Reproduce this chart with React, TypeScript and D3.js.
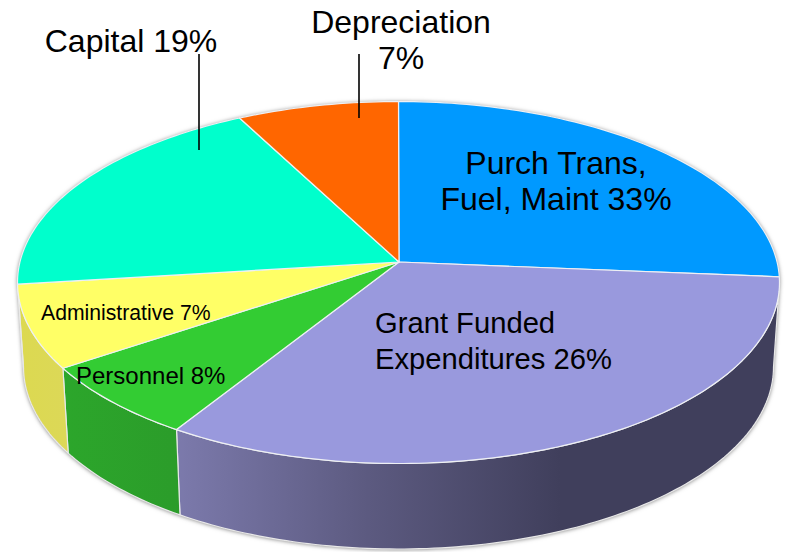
import React from "react";
import * as d3 from "d3";

const sliceNames = ["Purch Trans", "Grant Funded", "Personnel", "Administrative", "Capital", "Depreciation"];
// Slice sizes as drawn in the picture (the printed percentages differ)
const drawnShares = [24.5, 35.4, 7.25, 7.7, 18.3, 6.85];
const topColors = ["#0099ff", "#9999dd", "#33cc33", "#ffff66", "#00ffcc", "#ff6600"];

const labelLines = [
  ["Purch Trans,", "Fuel, Maint 33%"],
  ["Grant Funded", "Expenditures 26%"],
  ["Personnel 8%"],
  ["Administrative 7%"],
  ["Capital 19%"],
  ["Depreciation", "7%"],
];
const labelX = [556, 375, 76, 41, 131, 401];
const labelY = [174, 333, 384, 320, 52, 33];
const labelAnchor = ["middle", "start", "start", "start", "middle", "middle"];
const labelSize = [32, 29.2, 24, 21.2, 32, 32];
const labelLeading = [36, 36, 0, 0, 0, 36];

const leaders = [
  { x: 199, y1: 54, y2: 150 },
  { x: 359, y1: 54, y2: 118 },
];

const W = 788, H = 552;
const top = { cx: 398.5, cy: 282.5, rx: 381, ry: 181 };
const bot = { cx: 398.5, cy: 367, rx: 375, ry: 182 };
const apex: [number, number] = [399, 262];

const pt = (e: typeof top, a: number): [number, number] => [e.cx + e.rx * Math.sin(a), e.cy - e.ry * Math.cos(a)];
const arcPts = (e: typeof top, a0: number, a1: number) => {
  const n = Math.max(2, Math.ceil(Math.abs(a1 - a0) / 0.02));
  return d3.range(n + 1).map((i) => pt(e, a0 + ((a1 - a0) * i) / n));
};
const line = d3.line();

export default function App() {
  const arcs = d3.pie<number>().sort(null).startAngle(0).endAngle(2 * Math.PI)(drawnShares);
  const ends = arcs.map((d) => ({ a0: d.startAngle, a1: d.endAngle }));
  const walls = ends
    .map((d, i) => ({ i, a0: Math.max(d.a0, Math.PI / 2), a1: Math.min(d.a1, 1.5 * Math.PI) }))
    .filter((d) => d.a1 > d.a0);
  const wallFill = (i: number) => `url(#wall${i})`;
  return (
    <svg width={W} height={H} viewBox={`0 0 ${W} ${H}`}
      style={{ position: "fixed", left: 0, top: 0, background: "#fff", fontFamily: "'Liberation Sans', Arial, sans-serif" }}>
      <defs>
        <filter id="soft" x="-5%" y="-5%" width="110%" height="110%">
          <feDropShadow dx="0" dy="0.5" stdDeviation="2" floodColor="#000" floodOpacity="0.55" />
        </filter>
        <linearGradient id="wall1" gradientUnits="userSpaceOnUse" x1="176" x2="560" y1="0" y2="0">
          <stop offset="0" stopColor="#7c7aac" />
          <stop offset="0.5" stopColor="#5c5a80" />
          <stop offset="1" stopColor="#403f5c" />
        </linearGradient>
        <linearGradient id="wall2" gradientUnits="userSpaceOnUse" x1="65" x2="180" y1="0" y2="0">
          <stop offset="0" stopColor="#2ca62b" />
          <stop offset="1" stopColor="#2b9c2a" />
        </linearGradient>
        <linearGradient id="wall3" gradientUnits="userSpaceOnUse" x1="18" x2="70" y1="0" y2="0">
          <stop offset="0" stopColor="#dcd950" />
          <stop offset="1" stopColor="#dcd858" />
        </linearGradient>
      </defs>
      <g filter="url(#soft)">
        <path
          d={(line([...arcPts(top, -Math.PI / 2, Math.PI / 2), ...arcPts(bot, Math.PI / 2, 1.5 * Math.PI)]) ?? "") + "Z"}
          fill="#888"
        />
      </g>
      {walls.map((d) => (
        <path key={sliceNames[d.i]}
          d={(line([...arcPts(top, d.a0, d.a1), ...arcPts(bot, d.a1, d.a0)]) ?? "") + "Z"}
          fill={wallFill(d.i)} stroke="#e8e8e8" strokeWidth={1.2} strokeLinejoin="round" />
      ))}
      {ends.map((d, i) => (
        <path key={sliceNames[i]}
          d={(line([apex, ...arcPts(top, d.a0, d.a1)]) ?? "") + "Z"}
          fill={topColors[i]} stroke="#eef0f4" strokeWidth={1.2} strokeLinejoin="round" />
      ))}
      {leaders.map((l) => (
        <line key={l.x} x1={l.x} x2={l.x} y1={l.y1} y2={l.y2} stroke="#000" strokeWidth={1.6} />
      ))}
      {labelLines.map((lines, i) => (
        <text key={sliceNames[i]} x={labelX[i]} y={labelY[i]} textAnchor={labelAnchor[i]} fontSize={labelSize[i]} fill="#000">
          {lines.map((t, j) => (
            <tspan key={t} x={labelX[i]} dy={j === 0 ? 0 : labelLeading[i]}>{t}</tspan>
          ))}
        </text>
      ))}
    </svg>
  );
}
